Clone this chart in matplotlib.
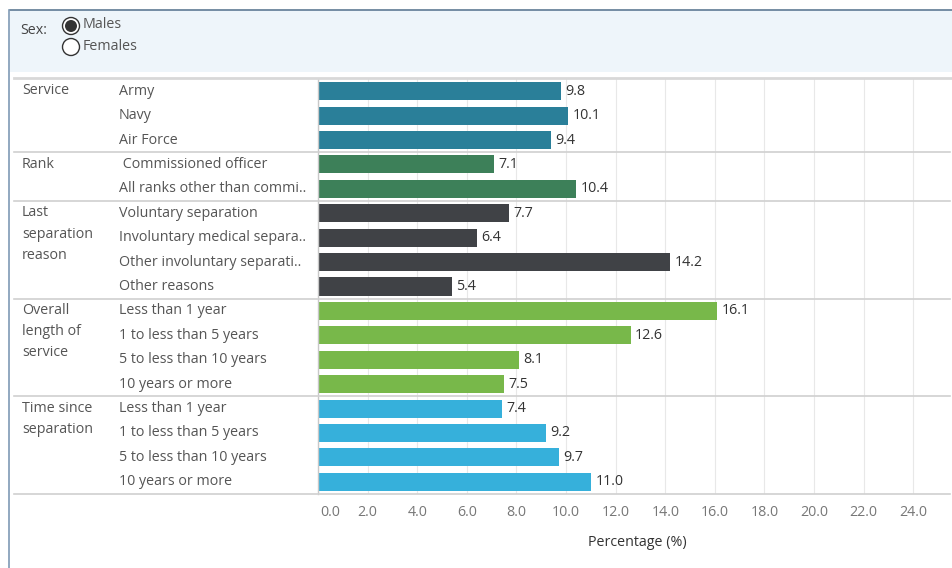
import matplotlib.pyplot as plt
import matplotlib.transforms as mtransforms
from matplotlib.patches import Rectangle, Circle
from matplotlib.lines import Line2D

plt.rcParams['font.family'] = ['Open Sans', 'DejaVu Sans']

# data
groups = ["Service", "Rank", "Last\nseparation\nreason", "Overall\nlength of\nservice",
          "Time since\nseparation"]
group_sizes = [3, 2, 4, 4, 4]
categories = ["Army", "Navy", "Air Force",
              " Commissioned officer", "All ranks other than commi..",
              "Voluntary separation", "Involuntary medical separa..",
              "Other involuntary separati..", "Other reasons",
              "Less than 1 year", "1 to less than 5 years", "5 to less than 10 years",
              "10 years or more",
              "Less than 1 year", "1 to less than 5 years", "5 to less than 10 years",
              "10 years or more"]
values = [9.8, 10.1, 9.4,
          7.1, 10.4,
          7.7, 6.4, 14.2, 5.4,
          16.1, 12.6, 8.1, 7.5,
          7.4, 9.2, 9.7, 11.0]
group_colors = ["#2A7F99", "#3D8059", "#404246", "#78B84A", "#36B0DB"]
xticks = [0, 2, 4, 6, 8, 10, 12, 14, 16, 18, 20, 22, 24]

W, H = 953, 568
fig = plt.figure(figsize=(W / 100, H / 100), dpi=100)
FS = 10.3


def fx(px):
    return px / W


def fy(py):
    return 1 - py / H


# header panel
fig.patches.append(Rectangle((fx(10), fy(72)), fx(943), fy(10) - fy(72),
                             transform=fig.transFigure, facecolor="#EEF5FA",
                             edgecolor="none", zorder=0))
fig.add_artist(Line2D([fx(10), 1], [fy(9.5), fy(9.5)], color="#5F7A94", lw=1.2))
fig.add_artist(Line2D([fx(9.5), fx(9.5)], [fy(9.5), 0], color="#7F9AB5", lw=1.2))
fig.add_artist(Line2D([fx(14), 1], [fy(78), fy(78)], color="#D8D8D8", lw=2))

pix = mtransforms.IdentityTransform()
fig.text(fx(20), fy(31), "Sex:", fontsize=FS, color="#444444", va="center")
fig.add_artist(Circle((71, H - 26), 8.5, transform=pix,
                      facecolor="white", edgecolor="#333333", lw=1))
fig.add_artist(Circle((71, H - 26), 6, transform=pix,
                      facecolor="#333333", edgecolor="none"))
fig.add_artist(Circle((71, H - 47), 8.5, transform=pix,
                      facecolor="white", edgecolor="#333333", lw=1))
fig.text(fx(83), fy(25), "Males", fontsize=FS, color="#555555", va="center")
fig.text(fx(83), fy(46), "Females", fontsize=FS, color="#555555", va="center")

# bar axes
ax = fig.add_axes([fx(318), fy(494), fx(943) - fx(318), fy(79) - fy(494)])
n = len(values)
ypos = list(range(n))
colors = []
for c, s in zip(group_colors, group_sizes):
    colors += [c] * s

ax.barh(ypos, values, height=0.74, color=colors, zorder=2)
for y, v in zip(ypos, values):
    ax.text(v + 0.18, y, f"{v:.1f}", va="center", ha="left", fontsize=FS,
            color="#333333")

ax.set_xlim(0, 25.2)
ax.set_ylim(n - 0.5, -0.5)
ax.set_yticks([])
ax.set_xticks(xticks)
ax.set_xticklabels([])
ax.grid(axis="x", color="#E8E8E8", lw=0.8, zorder=0)
ax.tick_params(axis="x", length=0)
for s in ["top", "right", "bottom"]:
    ax.spines[s].set_visible(False)
ax.spines["left"].set_color("#C8C8C8")
ax.spines["left"].set_linewidth(1)

# tick labels (Tableau shifts the first label right of the axis edge)
tr_x = mtransforms.blended_transform_factory(ax.transData, fig.transFigure)
for t in xticks:
    xoff = 0.5 if t == 0 else 0
    fig.text(t + xoff, fy(512), f"{t:.1f}", transform=tr_x, fontsize=FS,
             color="#777777", ha="center", va="center")
fig.text(fx(637), fy(542), "Percentage (%)", fontsize=FS, color="#333333",
         ha="center", va="center")

# row labels and group separators
tr = mtransforms.blended_transform_factory(fig.transFigure, ax.transData)
for y, cat in enumerate(categories):
    fig.text(fx(119), y, cat, transform=tr, fontsize=FS, color="#555555",
             va="center", ha="left")

start = 0
for g, s in zip(groups, group_sizes):
    fig.text(fx(22), start - 0.32, g, transform=tr, fontsize=FS, color="#555555",
             va="top", ha="left", linespacing=1.55)
    if start > 0:
        fig.add_artist(Line2D([fx(14), fx(950)], [start - 0.5, start - 0.5],
                              transform=tr, color="#D0D0D0", lw=1.2))
    start += s
fig.add_artist(Line2D([fx(14), fx(950)], [n - 0.5, n - 0.5], transform=tr,
                      color="#D0D0D0", lw=1.2))

fig.savefig("out.png", dpi=100)
